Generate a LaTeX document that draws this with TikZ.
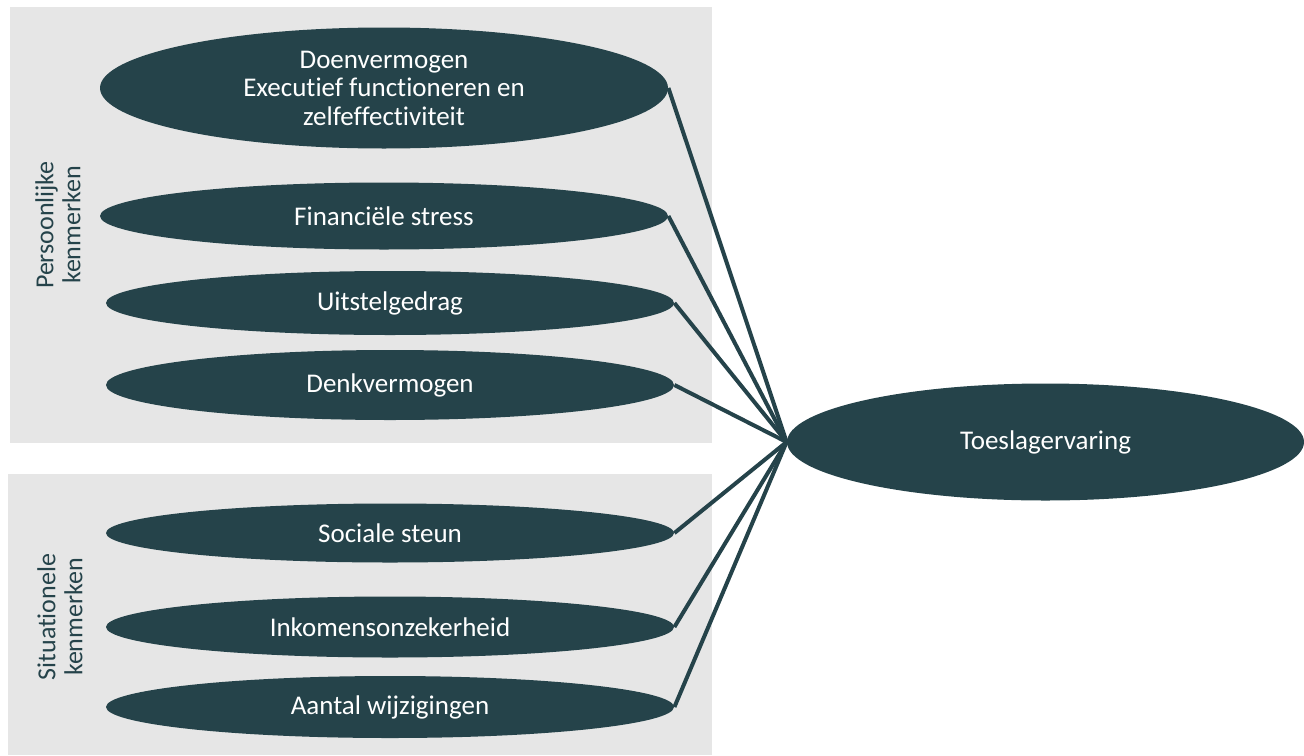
\documentclass[tikz,border=0pt]{standalone}
\usepackage{fontspec}
\setmainfont{Carlito}[Ligatures=NoCommon]
\usetikzlibrary{shapes.geometric}
\definecolor{donker}{HTML}{25434A}
\definecolor{grijs}{HTML}{E6E6E6}

\begin{document}
\begin{tikzpicture}[x=0.5pt,y=-0.5pt,
		kenmerk/.style={ellipse,fill=donker,text=white,inner sep=0pt,minimum width=284pt,minimum height=32pt,align=center,font=\fontsize{13.5}{14.25}\selectfont},
		groep/.style={rotate=90,text=donker,align=center,font=\fontsize{13}{13.5}\selectfont},
		every edge/.style={draw=donker,line width=2pt}]
		\useasboundingbox (0,0) rectangle (1304,755);
		\fill[grijs] (10,7) rectangle (712,443);
		\fill[grijs] (8,474) rectangle (712,755);
		
		\node[groep] (g1) at (58,225) {Persoonlijke\\kenmerken};
		\node[groep] (g2) at (60,617) {Situationele\\kenmerken};
		
		\node[kenmerk,minimum height=60.5pt] (k1) at (384,88) {Doenvermogen\\Executief functioneren en\\zelfeffectiviteit};
		\node[kenmerk,minimum height=33.5pt] (k2) at (384,216) {Financiële stress};
		\node[kenmerk] (k3) at (390,303) {Uitstelgedrag};
		\node[kenmerk,minimum height=35pt] (k4) at (390,385) {Denkvermogen};
		\node[kenmerk,minimum height=29.5pt] (k5) at (390,533) {Sociale steun};
		\node[kenmerk,minimum height=30.5pt] (k6) at (390,627) {Inkomensonzekerheid};
		\node[kenmerk,minimum height=31pt] (k7) at (390,707) {Aantal wijzigingen};
		\node[kenmerk,minimum width=258.5pt,minimum height=58.5pt] (toe) at (1045.5,442) {Toeslagervaring};
		
		\draw (k1.east) edge (toe.west);
		\draw (k2.east) edge (toe.west);
		\draw (k3.east) edge (toe.west);
		\draw (k4.east) edge (toe.west);
		\draw (k5.east) edge (toe.west);
		\draw (k6.east) edge (toe.west);
		\draw (k7.east) edge (toe.west);
	\end{tikzpicture}
\end{document}
